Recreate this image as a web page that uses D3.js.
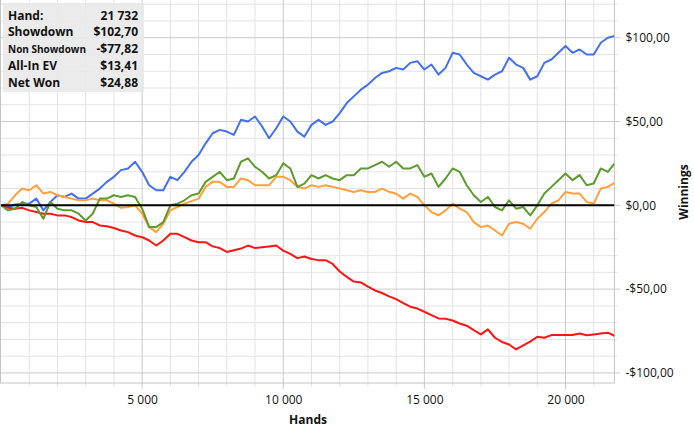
<!DOCTYPE html>
<html>
<head>
<meta charset="utf-8">
<script src="https://cdn.jsdelivr.net/npm/d3@7"></script>
<style>
  body { margin: 0; background: #fff; }
  text { font-family: "Open Sans", "Noto Sans", sans-serif; }
</style>
</head>
<body>
<div id="chart"></div>
<script>
// hands played (x) and the four running totals, sampled every 250 hands
var hands = [0, 250, 500, 750, 1000, 1250, 1500, 1750, 2000, 2250, 2500, 2750, 3000, 3250, 3500, 3750,
    4000, 4250, 4500, 4750, 5000, 5250, 5500, 5750, 6000, 6250, 6500, 6750, 7000, 7250, 7500, 7750,
    8000, 8250, 8500, 8750, 9000, 9250, 9500, 9750, 10000, 10250, 10500, 10750, 11000, 11250, 11500, 11750,
    12000, 12250, 12500, 12750, 13000, 13250, 13500, 13750, 14000, 14250, 14500, 14750, 15000, 15250, 15500, 15750,
    16000, 16250, 16500, 16750, 17000, 17250, 17500, 17750, 18000, 18250, 18500, 18750, 19000, 19250, 19500, 19750,
    20000, 20250, 20500, 20750, 21000, 21250, 21500, 21732];

var showdown = [0, -1, 0.5, 1, 1, 4, -3, 2, 6, 5, 7, 4, 4, 7, 10, 14,
    17, 21, 22, 26, 20, 12, 9, 9, 17, 15, 20, 26, 30, 37, 43, 45,
    44, 42, 51, 50, 53, 47, 40, 46, 53, 50, 44, 41, 48, 51, 48, 50,
    55, 61, 65, 69, 72, 76, 79, 80, 82, 81, 85, 86, 81, 84, 78, 82,
    91, 90, 84, 79, 77, 75, 78, 80, 88, 84, 82, 75, 77, 85, 87, 91,
    95, 91, 93, 90, 90, 97, 100, 101];

var nonShowdown = [0, -1.5, -2, -1.5, -3, -4, -5, -5, -6, -6, -7, -9, -10, -10, -12, -12.5,
    -13.5, -15, -16, -18, -19, -21, -24, -21, -17, -17, -19, -21, -22, -22, -24.5, -25.5,
    -27.8, -26.8, -25.8, -24, -25.5, -25, -24.5, -24, -27, -29, -31.5, -30.5, -32, -32.7, -32.7, -35,
    -39.5, -42.7, -45.5, -46, -48.5, -50.8, -52.3, -54.3, -56, -58.3, -60.5, -61.6, -63.5, -65.5, -67.5, -67.7,
    -68.7, -70.5, -71.8, -74.5, -77, -74, -79, -81.5, -83, -86, -83.5, -81.3, -78.4, -79, -77.4, -77.4,
    -77.4, -77.4, -76.5, -77.5, -77, -76.5, -76, -77.82];

var allInEV = [0, 1, 6, 10, 9, 12, 7, 8, 6, 5, 4, 3, 3, 4, 3, 3,
    1, -1.5, -1, 0, -5, -13, -16, -11, -3, -1, 1, 2.5, 4, 11, 14, 14,
    11, 11, 16, 15, 12, 12, 12, 17, 17, 15, 11, 10, 12, 11, 12, 11,
    10, 9, 8, 9, 8, 8, 10, 8, 7, 4, 7, 5, 0, -4, -6, -3,
    1, -2, -4, -10, -13, -12, -15, -18, -11, -10, -11, -14, -8, -4, 1, 3,
    8, 7, 7, 2, 1, 10, 11, 13.41];

var netWon = [0, -3, -2, 2, 0, -1, -8, 2, -2, -3, -3, -5, -9, -5, 4, 4,
    6, 5, 6, 5, -2, -13, -13, -10, 0, 1, 3, 6, 7, 14, 17, 20,
    15, 16, 26, 28, 23, 20, 16, 18, 25, 22, 11, 13, 18, 16, 18, 16,
    15, 18, 18, 22, 22, 24, 26, 23, 26, 22, 22, 24, 17, 19, 11, 16,
    22, 20, 12, 6, 2, 5, -1, -3, 3, -2, -1, -6, 0, 7, 11, 15,
    19, 15, 18, 12, 13, 22, 20, 24.88];

var seriesNames = ["Showdown", "Non Showdown", "All-In EV", "Net Won"];
var seriesValues = [showdown, nonShowdown, allInEV, netWon];
var seriesColors = ["#4470f0", "#ff1414", "#ffa03c", "#5f9a2e"];

var statLabels = ["Hand:", "Showdown", "Non Showdown", "All-In EV", "Net Won"];
var statValues = ["21 732", "$102,70", "-$77,82", "$13,41", "$24,88"];

var xMajorTicks = [5000, 10000, 15000, 20000];
var yMajorTicks = [-100, -50, 0, 50, 100];

var W = 694, H = 430;
var plotLeft = 1, plotRight = 614.4, plotTop = 0, plotBottom = 383;

var locale = d3.formatLocale({
    decimal: ",", thousands: "\u00a0", grouping: [3], currency: ["$", ""], minus: "-"
});
var fmtHands = locale.format(",d");
var fmtMoney = locale.format("$,.2f");

var svg = d3.select("#chart").append("svg")
    .attr("width", W)
    .attr("height", H);

var x = d3.scaleLinear().domain([0, 21732]).range([plotLeft, plotRight]);
var y = d3.scaleLinear().domain([-106, 122.5]).range([plotBottom, plotTop]);

var xMinor = d3.range(1000, 21732, 1000).filter(function(d) { return d % 5000 !== 0; });
var yMinor = d3.range(-100, 121, 10).filter(function(d) { return d % 50 !== 0; });

// grid, minor first
var grid = svg.append("g");
grid.selectAll(".vmin").data(xMinor).enter().append("line")
    .attr("x1", function(d) { return x(d); }).attr("x2", function(d) { return x(d); })
    .attr("y1", plotTop).attr("y2", plotBottom + 3.5)
    .attr("stroke", "#e3e3e3").attr("stroke-width", 1);
grid.selectAll(".hmin").data(yMinor).enter().append("line")
    .attr("x1", plotLeft).attr("x2", plotRight + 3.5)
    .attr("y1", function(d) { return y(d); }).attr("y2", function(d) { return y(d); })
    .attr("stroke", "#e3e3e3").attr("stroke-width", 1);
grid.selectAll(".vmaj").data(xMajorTicks).enter().append("line")
    .attr("x1", function(d) { return x(d); }).attr("x2", function(d) { return x(d); })
    .attr("y1", plotTop).attr("y2", plotBottom + 6)
    .attr("stroke", "#cbcbcb").attr("stroke-width", 1);
grid.selectAll(".hmaj").data(yMajorTicks).enter().append("line")
    .attr("x1", plotLeft).attr("x2", plotRight + 6)
    .attr("y1", function(d) { return y(d); }).attr("y2", function(d) { return y(d); })
    .attr("stroke", "#cbcbcb").attr("stroke-width", 1);

// plot border
svg.append("rect")
    .attr("x", plotLeft - 0.5).attr("y", plotTop - 1)
    .attr("width", plotRight - plotLeft + 0.5).attr("height", plotBottom - plotTop + 1)
    .attr("fill", "none").attr("stroke", "#c4c4c4").attr("stroke-width", 1);

// axes labels
var xAxis = d3.axisBottom(x).tickValues(xMajorTicks).tickSize(0).tickPadding(12).tickFormat(fmtHands);
var gx = svg.append("g").attr("transform", "translate(0," + plotBottom + ")").call(xAxis);
gx.select(".domain").remove();
gx.selectAll("text").attr("font-family", "Open Sans").attr("font-size", 12).attr("fill", "#111");

var yAxis = d3.axisRight(y).tickValues(yMajorTicks).tickSize(0).tickPadding(0).tickFormat(fmtMoney);
var gy = svg.append("g").attr("transform", "translate(625.5,0)").call(yAxis);
gy.select(".domain").remove();
gy.selectAll("text").attr("font-family", "Open Sans").attr("font-size", 12).attr("fill", "#111");

svg.append("text")
    .attr("x", 308).attr("y", 424)
    .attr("text-anchor", "middle")
    .attr("font-size", 12).attr("font-weight", "bold").attr("fill", "#111")
    .text("Hands");

svg.append("text")
    .attr("transform", "translate(687.5,192) rotate(-90)")
    .attr("text-anchor", "middle")
    .attr("font-size", 12).attr("font-weight", "bold").attr("fill", "#111")
    .text("Winnings");

// series
svg.append("clipPath").attr("id", "plotclip").append("rect")
    .attr("x", plotLeft).attr("y", plotTop)
    .attr("width", plotRight - plotLeft).attr("height", plotBottom - plotTop);

var line = d3.line()
    .x(function(d, i) { return x(hands[i]); })
    .y(function(d) { return y(d); });

var lines = svg.append("g").attr("clip-path", "url(#plotclip)");
seriesValues.forEach(function(vals, i) {
    lines.append("path")
        .datum(vals)
        .attr("d", line)
        .attr("fill", "none")
        .attr("stroke", seriesColors[i])
        .attr("stroke-width", 2)
        .attr("stroke-linejoin", "round");
});

lines.append("line")
    .attr("x1", plotLeft).attr("x2", plotRight)
    .attr("y1", y(0)).attr("y2", y(0))
    .attr("stroke", "#000").attr("stroke-width", 2);

// stats box
var box = svg.append("g");
box.append("rect")
    .attr("x", 3).attr("y", 3).attr("width", 141).attr("height", 89)
    .attr("fill", "#e9e9e9").attr("fill-opacity", 0.9);

var rowY = d3.scalePoint().domain(statLabels).range([15.5, 82.5]);

// long label squeezed so it ends before its value
box.selectAll(".lbl").data(statLabels).enter().append("text")
    .attr("x", 8).attr("y", function(d) { return rowY(d) + 4; })
    .attr("font-size", function(d) { return d === "Non Showdown" ? 11 : 12; })
    .attr("font-weight", "bold").attr("fill", "#111")
    .each(function(d) {
        if (d === "Non Showdown") {
            d3.select(this).attr("textLength", 78).attr("lengthAdjust", "spacingAndGlyphs");
        }
    })
    .text(function(d) { return d; });

box.selectAll(".val").data(statValues).enter().append("text")
    .attr("x", 138).attr("y", function(d, i) { return rowY(statLabels[i]) + 4; })
    .attr("text-anchor", "end")
    .attr("font-size", 12).attr("font-weight", "bold").attr("fill", "#111")
    .text(function(d) { return d; });
</script>
</body>
</html>
